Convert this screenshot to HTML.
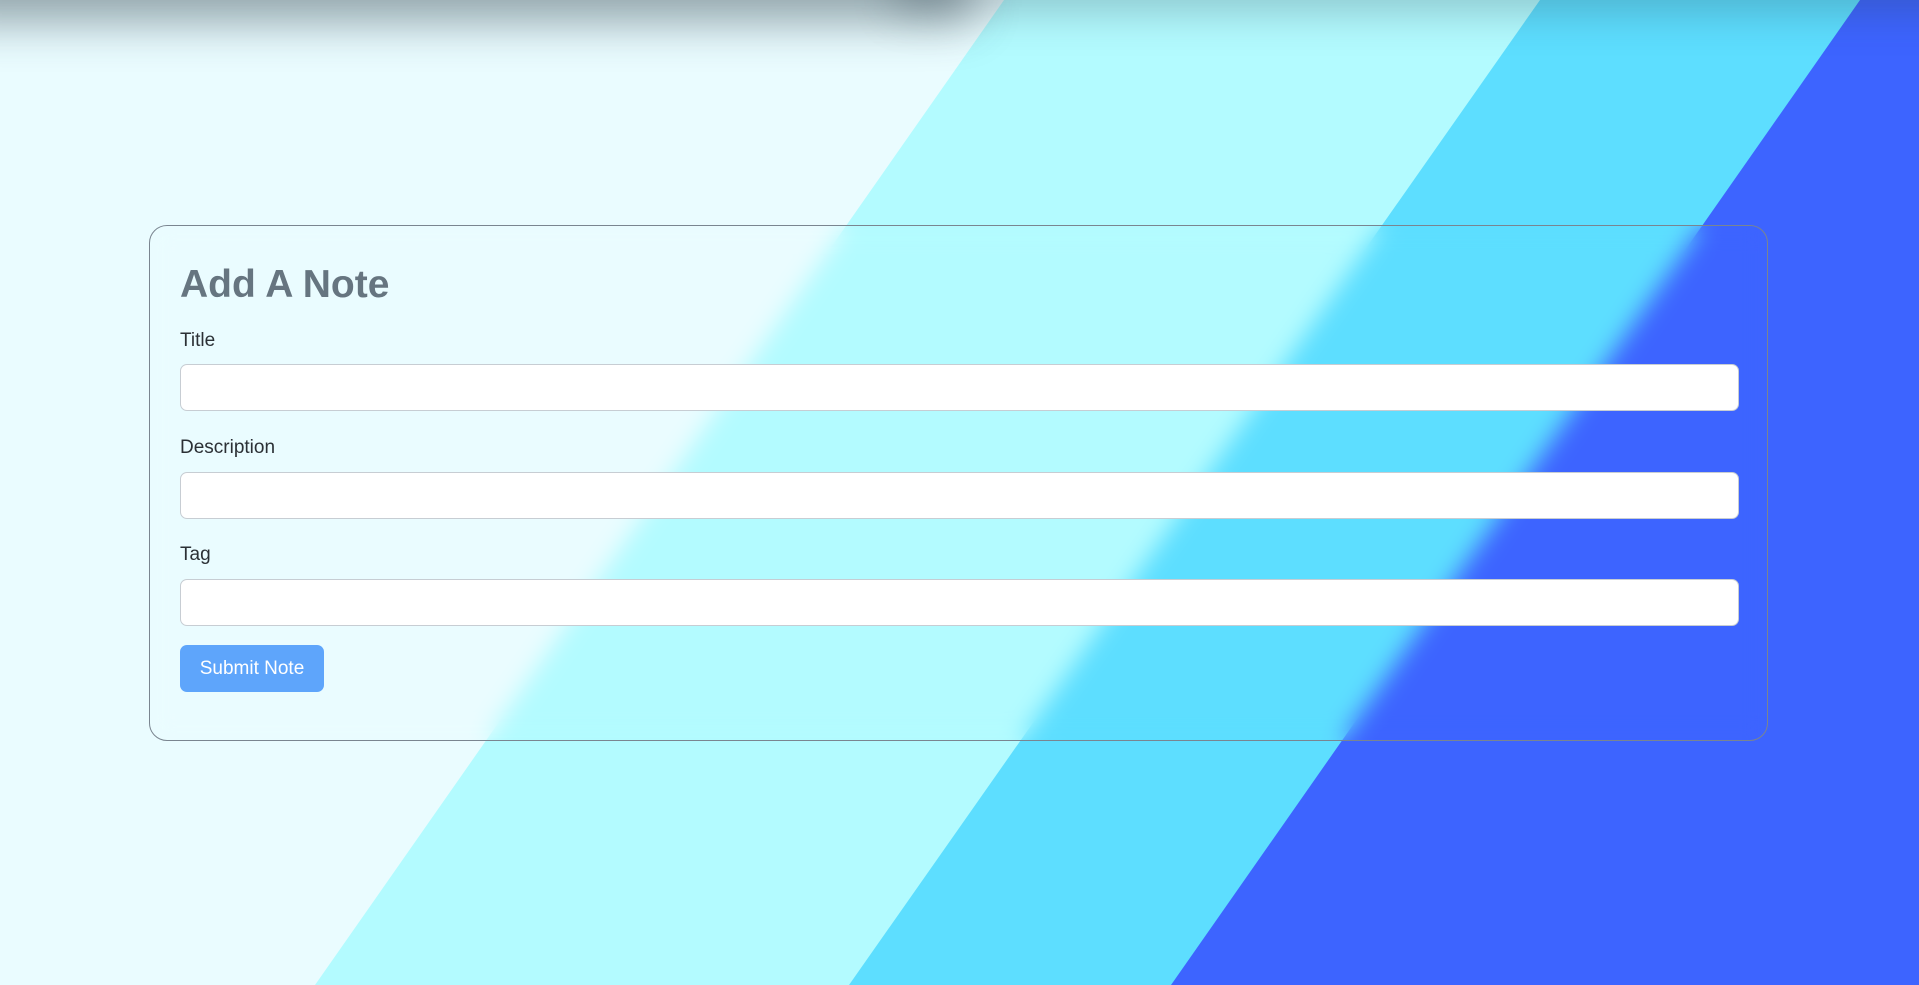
<!DOCTYPE html>
<html><head><meta charset="utf-8">
<style>
html,body{margin:0;padding:0;width:1919px;height:985px;overflow:hidden;font-family:"Liberation Sans",sans-serif;}
#bg{position:absolute;left:0;top:0;width:1919px;height:985px;}
#shadow{position:absolute;left:-40px;top:-60px;width:1000px;height:60px;box-shadow:0 10px 45px 12px rgba(40,60,70,0.45);background:#888;}
#shadow2{position:absolute;left:900px;top:-60px;width:1100px;height:60px;box-shadow:0 8px 40px 6px rgba(40,60,70,0.25);background:#888;}
#card{position:absolute;left:149px;top:225px;width:1619px;height:516px;border:1px solid #7a8590;border-radius:18px;backdrop-filter:blur(12px);-webkit-backdrop-filter:blur(12px);box-sizing:border-box;}
h2{position:absolute;left:30px;top:37px;margin:0;font-size:39px;font-weight:600;color:#667580;}
.lbl{position:absolute;left:30px;font-size:19px;color:#2b3035;}
.inp{position:absolute;left:30px;width:1559px;height:47px;background:#fff;border:1px solid #c7cdd3;border-radius:7px;box-sizing:border-box;}
#btn{position:absolute;left:30px;top:419px;width:144px;height:47px;background:#5ea5fb;border-radius:7px;color:#fff;font-size:19px;line-height:47px;text-align:center;}
</style></head><body>
<svg id="bg" width="1919" height="985">
<rect width="1919" height="985" fill="#eafcff"/>
<polygon points="1004,0 1919,0 1919,985 315,985" fill="#b3fbff"/>
<polygon points="1540,0 1919,0 1919,985 849,985" fill="#5ddeff"/>
<polygon points="1860,0 1919,0 1919,985 1171,985" fill="#3d64ff"/>
</svg>
<div id="shadow2"></div>
<div id="shadow"></div>
<div id="card">
<h2>Add A Note</h2>
<div class="lbl" style="top:104px">Title</div>
<div class="inp" style="top:138px"></div>
<div class="lbl" style="top:211px">Description</div>
<div class="inp" style="top:246px"></div>
<div class="lbl" style="top:318px">Tag</div>
<div class="inp" style="top:353px"></div>
<div id="btn">Submit Note</div>
</div>
</body></html>
